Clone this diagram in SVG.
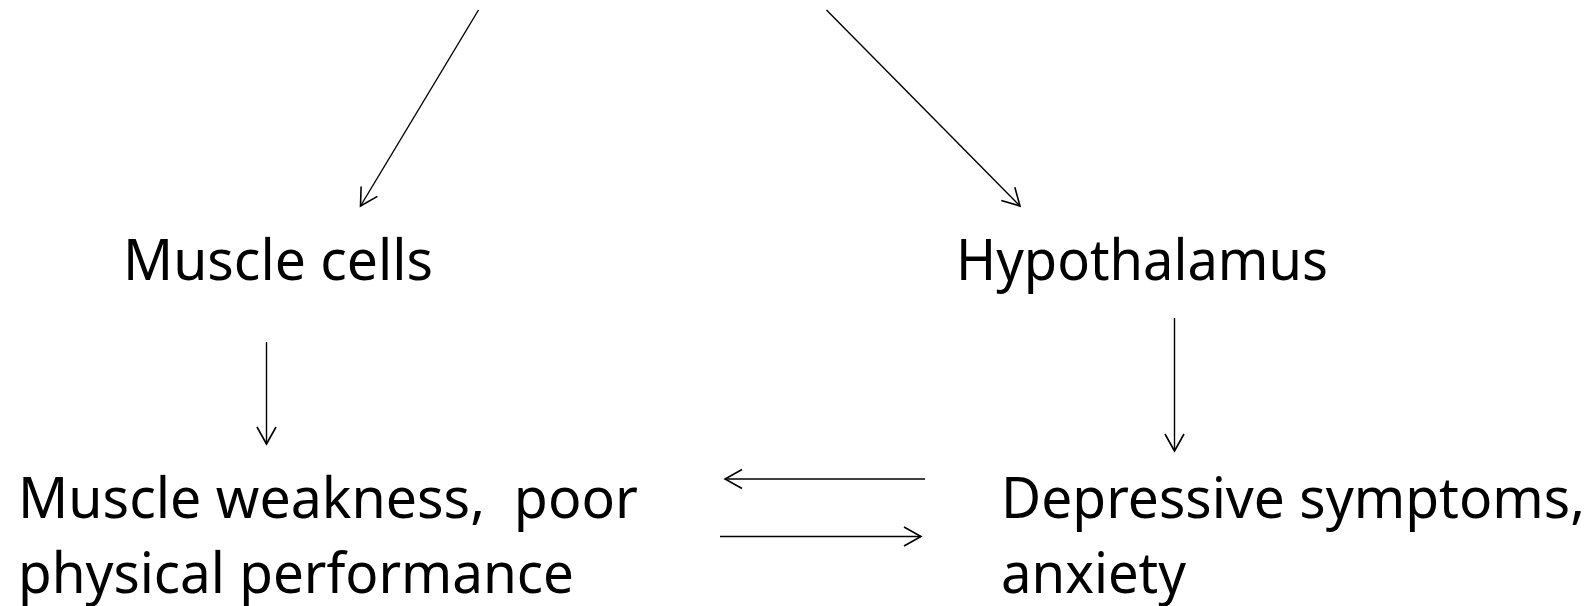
<svg xmlns="http://www.w3.org/2000/svg" width="1593" height="606" viewBox="0 0 1593 606">
<style>
.lbl{font-family:"Noto Sans","Open Sans",sans-serif;font-size:56px;fill:#000}
.edge{stroke:#000;stroke-width:1.4;fill:none}
</style>
<defs>
<marker id="ah" markerUnits="userSpaceOnUse" markerWidth="40" markerHeight="40" refX="0" refY="0" viewBox="-20 -20 40 40" orient="auto" overflow="visible">
<path d="M-17,-9.5 L0,0 L-17,9.5" fill="none" stroke="#000" stroke-width="1.6"/>
</marker>
</defs>
<rect width="1593" height="606" fill="#fff"/>
<g id="connectors">
<line class="edge" x1="478.5" y1="10" x2="360.5" y2="206" marker-end="url(#ah)"/>
<line class="edge" x1="826.5" y1="10" x2="1020" y2="206" marker-end="url(#ah)"/>
<line class="edge" x1="266.5" y1="342" x2="266.5" y2="444" marker-end="url(#ah)"/>
<line class="edge" x1="1174.5" y1="318" x2="1174.5" y2="451" marker-end="url(#ah)"/>
<line class="edge" x1="925" y1="479" x2="725" y2="479" marker-end="url(#ah)"/>
<line class="edge" x1="720" y1="536.5" x2="921" y2="536.5" marker-end="url(#ah)"/>
</g>
<g id="node-muscle-cells">
<text class="lbl" x="123" y="280" textLength="310" lengthAdjust="spacingAndGlyphs">Muscle cells</text>
</g>
<g id="node-hypothalamus">
<text class="lbl" x="956" y="280" textLength="372" lengthAdjust="spacingAndGlyphs">Hypothalamus</text>
</g>
<g id="node-muscle-weakness">
<text class="lbl" x="18" y="518" textLength="620" lengthAdjust="spacingAndGlyphs" xml:space="preserve">Muscle weakness,  poor</text>
<text class="lbl" x="18" y="593" textLength="556" lengthAdjust="spacingAndGlyphs">physical performance</text>
</g>
<g id="node-depressive">
<text class="lbl" x="1001" y="518" textLength="584" lengthAdjust="spacingAndGlyphs">Depressive symptoms,</text>
<text class="lbl" x="1001" y="593" textLength="185" lengthAdjust="spacingAndGlyphs">anxiety</text>
</g>
</svg>
